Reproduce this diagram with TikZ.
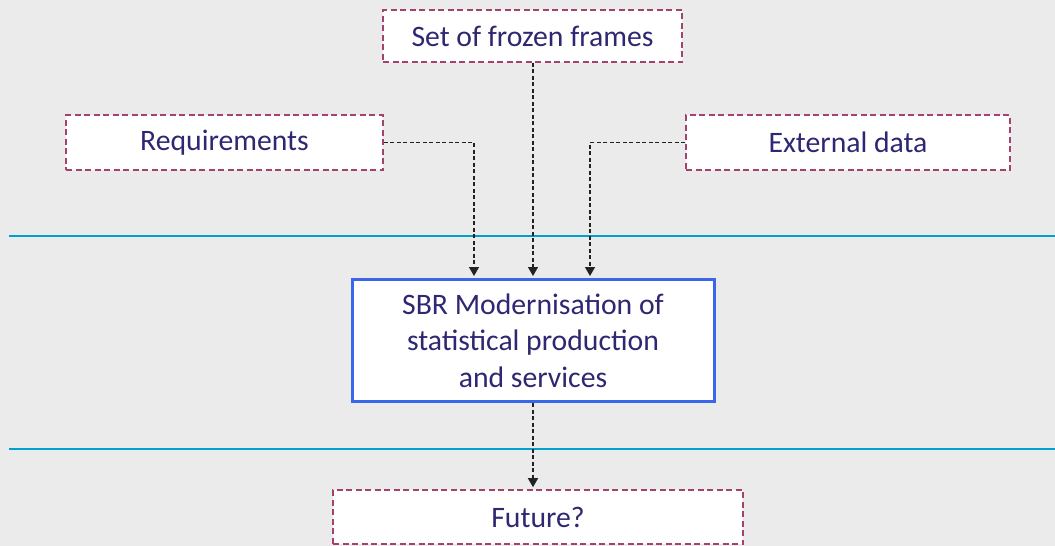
\documentclass[tikz,border=0pt]{standalone}
\usepackage{fontspec}
\setmainfont{Carlito}
\usetikzlibrary{arrows.meta,calc}
\definecolor{bg}{HTML}{EBEBEB}
\definecolor{maroon}{HTML}{A3416F}
\definecolor{navy}{HTML}{2E2772}
\definecolor{bluebox}{HTML}{3B66EC}
\definecolor{teal}{HTML}{00A0CC}
\definecolor{conn}{HTML}{222222}
\tikzset{
  dbox/.style={draw=maroon, line width=1.6pt, dash pattern=on 6pt off 3.5pt, fill=white,
    text=navy, inner sep=0pt, font=\fontsize{29.7}{36.3}\selectfont, anchor=center},
  mainbox/.style={draw=bluebox, line width=3pt, fill=white, text=navy, inner sep=0pt,
    align=center, font=\fontsize{29.7}{36.3}\selectfont, anchor=center},
  conn/.style={draw=conn, line width=1.4pt, dash pattern=on 4pt off 2.5pt,
    -{Triangle[width=10pt,length=9pt]}, shorten >=2pt},
  sep/.style={draw=teal, line width=2.5pt}
}
\begin{document}
\begin{tikzpicture}[x=1pt,y=-1pt]
\fill[bg] (0,0) rectangle (1055,546);
\useasboundingbox (0,0) rectangle (1055,546);
\coordinate (l1a) at (9,236);
\coordinate (l1b) at (1055,236);
\coordinate (l2a) at (9,449);
\coordinate (l2b) at (1055,449);
\draw[sep] (l1a) -- (l1b);
\draw[sep] (l2a) -- (l2b);
\node[dbox, minimum width=299pt, minimum height=52pt] (frz) at (532.5,36) {Set of frozen frames};
\node[dbox, minimum width=317pt, minimum height=55pt] (req) at (224.5,142.5) {Requirements};
\node[dbox, minimum width=324pt, minimum height=55pt] (ext) at (848,142.5) {External data};
\node[mainbox, minimum width=362pt, minimum height=122pt] (cen) at (533,340.5)
  {SBR Modernisation of\\statistical production\\and services};
\node[dbox, minimum width=410pt, minimum height=54pt] (fut) at (538,517) {Future?};
\draw[conn] (req.east) -| ([xshift=-59pt]cen.north);
\draw[conn] (frz.south -| cen.north) -- (cen.north);
\draw[conn] (ext.west) -| ([xshift=57pt]cen.north);
\draw[conn] (cen.south) -- (cen.south |- fut.north);
\end{tikzpicture}
\end{document}
